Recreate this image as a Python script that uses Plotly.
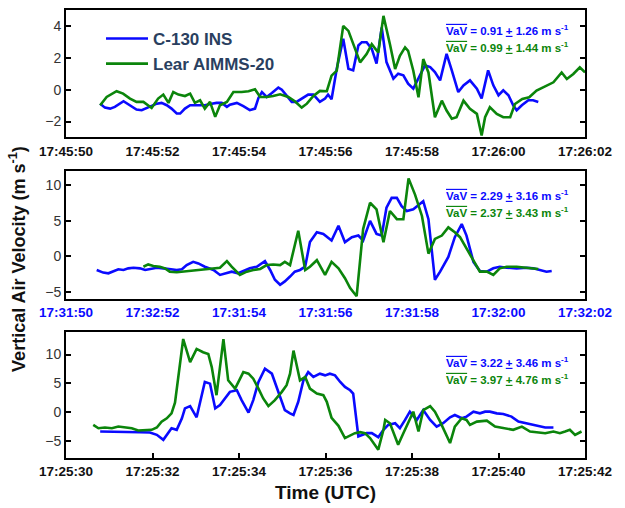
import plotly.graph_objects as go

# ---------------- data (seconds after first tick label, m/s) ----------------
p1_ticks = ["17:45:50", "17:45:52", "17:45:54", "17:45:56", "17:45:58", "17:26:00", "17:26:02"]
p2_ticks = ["17:31:50", "17:32:52", "17:31:54", "17:31:56", "17:31:58", "17:32:00", "17:32:02"]
p3_ticks = ["17:25:30", "17:25:32", "17:25:34", "17:25:36", "17:25:38", "17:25:40", "17:25:42"]
tick_seconds = [0, 2, 4, 6, 8, 10, 12]

p1_blue_t = [0.79, 0.90, 1.02, 1.13, 1.33, 1.48, 1.63, 1.75, 1.87, 1.98, 2.10, 2.21, 2.33, 2.44, 2.56, 2.64,
             2.75, 2.87, 3.02, 3.21, 3.37, 3.48, 3.60, 3.72, 3.79, 3.95, 4.10, 4.25, 4.37, 4.45, 4.53, 4.64,
             4.76, 4.91, 4.99, 5.10, 5.22, 5.33, 5.49, 5.60, 5.72, 5.87, 5.99, 6.06, 6.14, 6.18, 6.26, 6.41,
             6.53, 6.64, 6.76, 6.84, 6.95, 7.07, 7.18, 7.30, 7.41, 7.57, 7.68, 7.80, 7.91, 8.03, 8.15, 8.30,
             8.42, 8.53, 8.65, 8.80, 8.92, 9.07, 9.19, 9.34, 9.50, 9.61, 9.76, 9.88, 10.00, 10.11, 10.23,
             10.34, 10.42, 10.54, 10.69, 10.80, 10.92]
p1_blue_v = [-0.88, -1.13, -1.19, -1.08, -0.73, -0.98, -1.25, -1.29, -1.15, -0.98, -0.88, -0.83, -0.98, -1.19,
             -1.50, -1.50, -1.19, -0.98, -0.98, -0.98, -0.88, -0.83, -0.83, -1.08, -0.94, -0.83, -1.04, -1.29,
             -1.19, -0.52, -0.15, -0.46, -0.21, 0.13, 0.00, -0.40, -0.77, -0.77, -0.52, -0.31, -0.31, -0.77,
             -0.56, -0.31, -0.60, 0.06, 1.31, 3.19, 1.31, 1.21, 2.77, 2.98, 2.98, 2.56, 1.63, 3.90, 1.73, 0.69,
             1.00, 0.90, 0.38, 0.06, 0.69, 1.52, 1.42, 1.10, 0.58, 2.25, 1.21, -0.15, 0.27, 0.58, 0.06, -0.56,
             1.21, 0.27, -0.35, -0.04, -0.35, -0.98, -1.29, -0.98, -0.67, -0.67, -0.77]

p1_green_t = [0.79, 0.94, 1.17, 1.32, 1.48, 1.63, 1.79, 1.98, 2.13, 2.25, 2.37, 2.48, 2.60, 2.75, 2.87, 2.98,
              3.10, 3.21, 3.33, 3.45, 3.56, 3.72, 3.87, 4.06, 4.22, 4.37, 4.49, 4.64, 4.79, 4.95, 5.14, 5.29,
              5.45, 5.57, 5.72, 5.87, 6.03, 6.14, 6.26, 6.41, 6.53, 6.68, 6.80, 6.95, 7.07, 7.22, 7.34, 7.49,
              7.61, 7.72, 7.84, 7.91, 8.03, 8.15, 8.26, 8.38, 8.53, 8.69, 8.80, 8.92, 9.03, 9.19, 9.34, 9.50,
              9.61, 9.69, 9.80, 9.96, 10.11, 10.27, 10.38, 10.55, 10.71, 10.88, 11.11, 11.27, 11.46, 11.58,
              11.73, 11.88, 12.00]
p1_green_v = [-0.98, -0.46, -0.10, -0.25, -0.56, -0.77, -0.77, -1.15, -0.56, -0.31, -0.83, -0.15, -0.31,
              -0.40, -0.25, -0.83, -0.67, -1.19, -0.77, -1.71, -0.98, -0.77, -0.15, -0.15, -0.10, 0.02, -0.46,
              -0.46, -0.40, -0.29, -0.46, -0.73, -1.13, -0.88, -0.40, -0.08, -0.10, 0.88, 1.19, 4.00, 3.69,
              2.65, 1.71, 2.23, 2.85, 2.33, 4.63, 2.85, 1.29, 2.13, 2.65, 2.44, 1.19, -0.48, 1.92, 1.08, -1.73,
              -0.69, -1.31, -1.83, -1.73, -0.69, -1.21, -1.52, -2.88, -1.73, -1.10, -1.52, -1.73, -1.73, -0.90,
              -0.58, -0.48, -0.06, 0.25, 0.46, 1.08, 0.67, 0.98, 1.40, 1.08]

p2_blue_t = [0.71, 0.86, 0.98, 1.09, 1.21, 1.33, 1.44, 1.56, 1.71, 1.83, 1.98, 2.10, 2.25, 2.40, 2.56, 2.68,
             2.79, 2.94, 3.06, 3.21, 3.41, 3.56, 3.68, 3.83, 3.98, 4.14, 4.25, 4.41, 4.52, 4.60, 4.72, 4.83,
             4.95, 5.06, 5.18, 5.29, 5.41, 5.53, 5.64, 5.80, 5.95, 6.14, 6.30, 6.45, 6.61, 6.76, 6.87, 7.03,
             7.18, 7.30, 7.41, 7.53, 7.65, 7.76, 7.88, 8.03, 8.26, 8.38, 8.53, 8.65, 8.84, 8.99, 9.15, 9.26,
             9.42, 9.57, 9.73, 9.88, 10.03, 10.19, 10.42, 10.65, 10.80, 10.96, 11.11, 11.23]
p2_blue_v = [-1.94, -2.31, -2.41, -2.18, -1.85, -1.94, -1.71, -1.62, -1.71, -1.94, -1.71, -1.62, -1.71, -1.85,
             -1.94, -1.85, -1.25, -0.79, -1.02, -1.48, -1.94, -2.64, -2.41, -2.18, -2.41, -1.94, -1.71, -1.48,
             -1.02, -0.69, -1.94, -3.33, -4.03, -3.56, -2.87, -2.18, -1.94, -1.48, 2.00, 3.38, 3.15, 2.22, 4.31,
             1.99, 2.69, 2.92, 2.22, 5.00, 3.15, 2.92, 6.85, 8.24, 8.24, 7.08, 6.39, 6.62, 7.78, 5.23, -3.33,
             -2.18, -0.10, 2.69, 4.54, 2.92, -0.79, -2.08, -2.18, -1.71, -1.48, -1.62, -1.71, -1.62, -1.71,
             -1.94, -2.18, -2.08]

p2_green_t = [1.79, 1.90, 2.02, 2.17, 2.29, 2.40, 2.56, 2.71, 2.87, 3.02, 3.21, 3.41, 3.56, 3.72, 3.83, 4.02,
              4.18, 4.33, 4.49, 4.64, 4.79, 4.95, 5.06, 5.18, 5.37, 5.53, 5.64, 5.80, 5.99, 6.14, 6.30, 6.45,
              6.57, 6.72, 6.87, 7.03, 7.18, 7.34, 7.49, 7.65, 7.80, 7.92, 8.07, 8.23, 8.38, 8.53, 8.69, 8.84,
              8.99, 9.11, 9.26, 9.42, 9.57, 9.73, 9.88, 10.03, 10.19, 10.42, 10.65, 10.80, 10.92]
p2_green_v = [-1.48, -1.16, -1.39, -1.48, -1.71, -2.18, -2.27, -2.18, -2.04, -1.94, -1.85, -1.71, -1.62, -0.69,
              -1.48, -2.64, -2.18, -1.94, -1.80, -1.25, -1.16, -1.25, -0.79, -1.25, 3.61, -1.94, -1.48, -0.56,
              -2.64, -0.79, -1.71, -3.10, -4.49, -5.65, 3.84, 7.55, 6.62, 1.99, 6.39, 5.23, 5.23, 11.00, 8.70,
              5.69, 0.37, 2.45, 2.92, 4.07, 3.38, 2.69, 1.06, -0.56, -2.18, -2.18, -2.64, -1.71, -1.48, -1.48,
              -1.62, -1.71, -1.80]

p3_blue_t = [0.79, 1.02, 1.25, 1.48, 1.71, 1.94, 2.10, 2.25, 2.37, 2.44, 2.56, 2.68, 2.75, 2.87, 3.02, 3.14,
             3.21, 3.33, 3.45, 3.56, 3.68, 3.79, 3.95, 4.06, 4.22, 4.33, 4.45, 4.60, 4.76, 4.91, 5.06, 5.18,
             5.26, 5.37, 5.49, 5.60, 5.72, 5.87, 5.99, 6.10, 6.22, 6.34, 6.45, 6.57, 6.64, 6.76, 6.95, 7.07,
             7.22, 7.34, 7.45, 7.61, 7.72, 7.84, 7.95, 8.11, 8.26, 8.42, 8.57, 8.72, 8.88, 8.99, 9.15, 9.26,
             9.42, 9.57, 9.69, 9.80, 9.96, 10.11, 10.30, 10.46, 10.61, 10.77, 10.92, 11.08, 11.27]
p3_blue_v = [-3.39, -3.39, -3.45, -3.51, -3.51, -3.56, -3.97, -4.83, -3.68, -2.82, -3.10, -1.09, 0.63, 1.03,
             -0.92, 2.64, 5.23, 4.94, 0.63, 1.21, 2.36, 3.51, 3.79, 2.07, -0.11, 2.07, 5.23, 7.53, 6.67, 3.51,
             0.34, -0.23, -0.52, 1.78, 5.52, 6.95, 6.09, 6.67, 6.38, 6.67, 6.38, 5.23, 4.37, 3.79, 3.22, -4.25,
             -3.68, -3.68, -4.37, -3.10, -2.24, -1.95, -2.82, -1.38, 0.06, -1.38, 0.34, -1.38, -2.53, -1.95,
             -0.92, -0.52, -1.09, -0.80, 0.06, -0.23, 0.06, 0.06, -0.23, -0.34, -0.80, -1.67, -1.95, -2.24,
             -2.53, -2.70, -2.70]

p3_green_t = [0.63, 0.75, 0.90, 1.06, 1.21, 1.36, 1.52, 1.67, 1.83, 1.98, 2.10, 2.21, 2.33, 2.44, 2.52, 2.71,
              2.87, 3.02, 3.17, 3.29, 3.37, 3.48, 3.64, 3.75, 3.91, 4.10, 4.22, 4.33, 4.45, 4.56, 4.68, 4.83,
              4.99, 5.10, 5.18, 5.26, 5.41, 5.53, 5.64, 5.80, 5.95, 6.03, 6.14, 6.30, 6.45, 6.57, 6.68, 6.80,
              6.91, 7.03, 7.14, 7.22, 7.34, 7.38, 7.49, 7.61, 7.68, 7.80, 7.92, 8.03, 8.15, 8.26, 8.42, 8.53,
              8.65, 8.76, 8.88, 8.99, 9.15, 9.26, 9.34, 9.50, 9.73, 9.92, 10.11, 10.34, 10.54, 10.73, 10.88,
              11.08, 11.27, 11.42, 11.54, 11.65, 11.77, 11.92]
p3_green_v = [-2.24, -2.82, -2.70, -2.82, -2.53, -2.64, -2.82, -3.22, -3.10, -3.10, -2.70, -1.67, -1.09, -0.23,
              1.61, 12.70, 8.68, 10.98, 10.40, 10.11, 7.82, 2.93, 12.70, 5.52, 4.08, 6.95, 6.67, 5.80, 4.08,
              2.36, 1.03, 2.07, 3.51, 4.66, 6.67, 10.69, 5.52, 6.09, 4.08, 3.22, 2.93, 1.78, -1.00, -2.40,
              -4.54, -4.14, -3.68, -3.51, -3.68, -4.54, -5.69, -6.55, -3.10, -1.38, -1.95, -4.25, -5.69, -3.68,
              -1.67, 0.06, -3.39, 0.34, 1.03, 0.06, -1.67, -3.39, -5.40, -2.53, -1.09, -1.38, -2.24, -1.67,
              -1.49, -2.53, -2.82, -3.10, -2.53, -3.39, -3.51, -3.68, -3.39, -3.68, -3.39, -3.10, -3.97, -3.39]

stats_blue = [("0.91", "1.26"), ("2.29", "3.16"), ("3.22", "3.46")]
stats_green = [("0.99", "1.44"), ("2.37", "3.43"), ("3.97", "4.76")]
y_ranges = [[-3, 5], [-6, 12], [-8, 14]]
y_ticks = [[-2, 0, 2, 4], [-5, 0, 5, 10], [-5, 0, 5, 10]]

# ---------------- styling ----------------
BLUE = "#0a0aff"
GREEN = "#0b850b"
FONT = "Liberation Sans, Arial, sans-serif"
W, H = 625, 508
ML, MR, MT, MB = 66, 40, 8, 50
plot_h = H - MT - MB

def frac_y(py):
    return (H - MB - py) / plot_h

domains = [[frac_y(136), frac_y(8)], [frac_y(298), frac_y(170)], [frac_y(458), frac_y(331)]]

fig = go.Figure()
series = [(p1_blue_t, p1_blue_v, p1_green_t, p1_green_v),
          (p2_blue_t, p2_blue_v, p2_green_t, p2_green_v),
          (p3_blue_t, p3_blue_v, p3_green_t, p3_green_v)]
for i, (bt, bv, gt, gv) in enumerate(series):
    xa = "x" if i == 0 else f"x{i+1}"
    ya = "y" if i == 0 else f"y{i+1}"
    fig.add_trace(go.Scatter(x=bt, y=bv, mode="lines", line=dict(color=BLUE, width=2.6),
                             name="C-130 INS", showlegend=(i == 0), xaxis=xa, yaxis=ya))
    fig.add_trace(go.Scatter(x=gt, y=gv, mode="lines", line=dict(color=GREEN, width=2.6),
                             name="Lear AIMMS-20", showlegend=(i == 0), xaxis=xa, yaxis=ya))

tick_labels = [p1_ticks, p2_ticks, p3_ticks]
label_colors = ["#111111", BLUE, "#111111"]
layout = {}
for i in range(3):
    k = "" if i == 0 else str(i + 1)
    ya = "y" if i == 0 else f"y{i+1}"
    xa = "x" if i == 0 else f"x{i+1}"
    layout[f"xaxis{k}"] = dict(
        domain=[0, 1], anchor=ya, range=[0, 12], tickmode="array", tickvals=tick_seconds,
        ticktext=tick_labels[i], ticks="inside" if i == 2 else "", ticklen=5, tickwidth=2,
        tickcolor="black", showline=True, linewidth=2, linecolor="black", mirror=True,
        showgrid=False, zeroline=False,
        tickfont=dict(family=FONT, size=13.5, color=label_colors[i], weight="bold"))
    layout[f"yaxis{k}"] = dict(
        domain=domains[i], anchor=xa, range=y_ranges[i], tickmode="array", tickvals=y_ticks[i],
        ticks="inside", ticklen=5, tickwidth=2, tickcolor="black", showline=True, linewidth=2,
        linecolor="black", mirror="ticks", showgrid=False, zeroline=False,
        tickfont=dict(family=FONT, size=14, color="#333333"))

# extra tick-mark axes (tick marks that do not coincide with labels)
minor_specs = [(9, "both"), (8, "both"), (8, "top")]
for i, (n, where) in enumerate(minor_specs):
    k = str(i + 4)
    ya = "y" if i == 0 else f"y{i+1}"
    xa = "x" if i == 0 else f"x{i+1}"
    vals = [12 * j / n for j in range(1, n)]
    layout[f"xaxis{k}"] = dict(
        overlaying=xa, anchor=ya, range=[0, 12], tickmode="array", tickvals=vals,
        ticks="inside", ticklen=5, tickwidth=2, tickcolor="black", showticklabels=False,
        side="top" if where == "top" else "bottom", mirror="ticks" if where == "both" else False,
        showline=True, linewidth=2, linecolor="black", showgrid=False, zeroline=False)

annotations = []
for i in range(3):
    top_py = [28, 194, 362][i]
    for j, (stats, col) in enumerate([(stats_blue[i], BLUE), (stats_green[i], GREEN)]):
        txt = ('<b><span style="text-decoration:overline">VaV</span> = %s <u>+</u> %s m s<sup>-1</sup></b>'
               % stats)
        annotations.append(dict(xref="paper", yref="paper", x=(444 - ML) / (W - ML - MR),
                                y=frac_y(top_py + 17 * j), xanchor="left", yanchor="middle",
                                text=txt, showarrow=False,
                                font=dict(family=FONT, size=11.5, color=col)))
annotations.append(dict(xref="paper", yref="paper", x=(18 - ML) / (W - ML - MR), y=frac_y(258),
                        xanchor="center", yanchor="middle", textangle=-90, showarrow=False,
                        text="<b>Vertical Air Velocity (m s<sup>-1</sup>)</b>",
                        font=dict(family=FONT, size=18, color="#111111")))
annotations.append(dict(xref="paper", yref="paper", x=0.5, y=frac_y(493),
                        xanchor="center", yanchor="middle", showarrow=False,
                        text="<b>Time (UTC)</b>",
                        font=dict(family=FONT, size=19, color="#111111")))

fig.update_layout(
    width=W, height=H, margin=dict(l=ML, r=MR, t=MT, b=MB),
    paper_bgcolor="white", plot_bgcolor="white",
    annotations=annotations,
    legend=dict(x=(101 - ML) / (W - ML - MR), y=frac_y(19), xanchor="left", yanchor="top",
                bgcolor="rgba(0,0,0,0)", tracegroupgap=0, itemwidth=42,
                font=dict(family=FONT, size=17, weight="bold")),
    **layout)
fig.write_html("out.html")
